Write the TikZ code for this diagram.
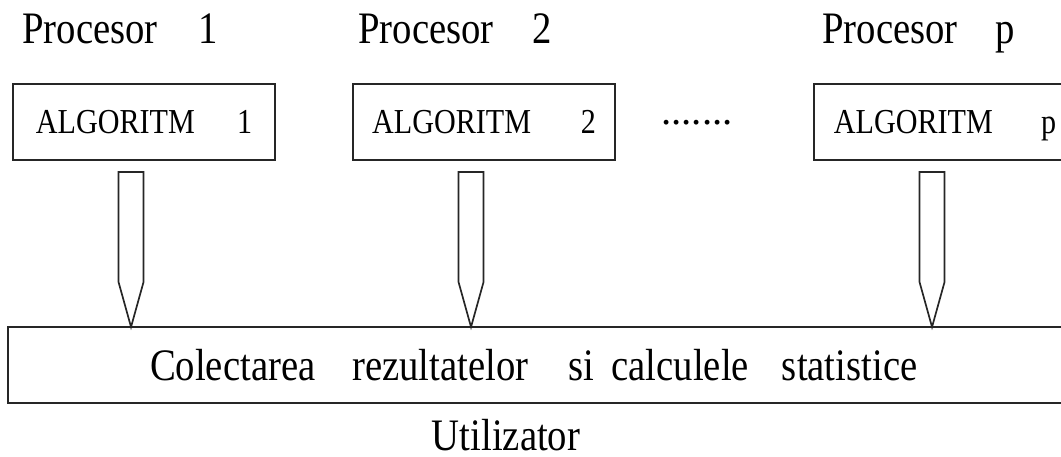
\documentclass[tikz,border=0pt]{standalone}
\usepackage{fontspec}
\setmainfont{Liberation Serif}
\usetikzlibrary{calc}

\newcommand{\narrow}[1]{\scalebox{0.86}[1]{#1}}

\begin{document}
\begin{tikzpicture}[x=0.025cm, y=-0.025cm,
        lbl/.style={inner sep=0pt, font=\fontsize{32}{38}\selectfont},
        algbox/.style={draw=black!85, line width=1.6pt, outer sep=0pt, minimum width=6.55cm, minimum height=1.9cm, text depth=0pt, anchor=north west, font=\fontsize{24.9}{30}\selectfont},
        collectbox/.style={draw=black!85, line width=1.6pt, outer sep=0pt, anchor=north west, minimum height=1.9cm, inner xsep=3.55cm, text width=20cm, align=left, font=\fontsize{32}{38}\selectfont},
        hollow/.style={draw=black!85, line width=1.2pt, line join=miter}]
            \useasboundingbox (0,0) rectangle (1061,456);
            \clip (0,0) rectangle (1061,456);

            \node[lbl, anchor=base west] (proc1) at (22,43) {\narrow{Procesor\hspace{1.05em}1}};
            \node[lbl, anchor=base west] (proc2) at (358,43) {\narrow{Procesor\hspace{1em}2}};
            \node[lbl, anchor=base west] (procp) at (822,43) {\narrow{Procesor\hspace{0.98em}p}};

            \node[algbox] (alg1) at (13,84) {\narrow{ALGORITM\hspace{1.4em}1}};
            \node[algbox] (alg2) at (353,84) {\narrow{ALGORITM\hspace{1.65em}2}};
            \node[algbox] (algp) at (814,84) {\narrow{ALGORITM\hspace{1.6em}p}};
            \node[inner sep=0pt, anchor=base, font=\fontsize{29}{34}\selectfont] (dots) at (697,124) {.......};

            \node[collectbox] (collect) at (8,327) {\narrow{Colectarea\hspace{0.95em}rezultatelor\hspace{1.03em}si\hspace{0.45em}calculele\hspace{0.85em}statistice}};
            \node[lbl, anchor=base] (user) at (506,450) {\narrow{Utilizator}};

            % hollow arrows
            \foreach \a in {alg1,alg2,algp}{
                \coordinate (t) at ($(\a.south)+(-13,12)$);
                \draw[hollow] ($(t)+(-12.5,0)$) -- ($(t)+(12.5,0)$) -- ($(t)+(12.5,110)$)
                    -- (t |- collect.north) -- ($(t)+(-12.5,110)$) -- cycle;
            }
\end{tikzpicture}
\end{document}
